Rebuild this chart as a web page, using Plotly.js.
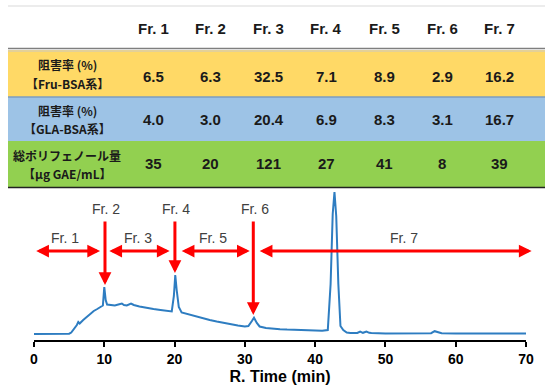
<!DOCTYPE html>
<html>
<head>
<meta charset="utf-8">
<script src="https://cdn.plot.ly/plotly-3.0.1.min.js"></script>
<style>html,body{margin:0;padding:0;background:#fff;}#chart{width:545px;height:386px;}</style>
</head>
<body>
<div id="chart"></div>
<script>
// ---------- DATA ----------
var fractions = ['Fr. 1', 'Fr. 2', 'Fr. 3', 'Fr. 4', 'Fr. 5', 'Fr. 6', 'Fr. 7'];
var rowLabels = ['阻害率 (%)<br>【Fru-BSA系】', '阻害率 (%)<br>【GLA-BSA系】', '総ポリフェノール量<br>【µg GAE/mL】'];
var fruBSA = [6.5, 6.3, 32.5, 7.1, 8.9, 2.9, 16.2];
var glaBSA = [4.0, 3.0, 20.4, 6.9, 8.3, 3.1, 16.7];
var polyphenol = [35, 20, 121, 27, 41, 8, 39];

// chromatogram (retention time in min, detector signal in a.u.)
var rtime = [0, 1, 2, 3, 4, 5, 5.3, 5.7, 6.1, 6.3, 6.5, 7, 7.5, 8, 8.5, 9, 9.5, 9.8, 10.0, 10.2, 10.4,
  11, 11.5, 12, 12.5, 12.8, 13.2, 13.8, 14.2, 15, 16, 17, 18, 19, 19.6, 19.9, 20.1, 20.3, 20.6,
  21, 22, 23, 24, 25, 26, 27, 28, 29, 30, 30.5, 31.0, 31.3, 31.7, 32.1, 33, 34, 35, 36, 38, 40, 41,
  41.8, 42.2, 42.5, 42.75, 43.0, 43.3, 43.6, 44, 44.5, 45, 46, 46.4, 46.8, 47.3, 47.7, 48, 50, 55,
  56.5, 57, 57.5, 58, 60, 65, 70];
var signal = [0, 0, 0, 0, 0, 0.3, 1.5, 5, 9, 12, 10.5, 14, 17, 20, 23, 25, 27, 28.5, 47, 34, 29.5,
  29, 28.5, 29.5, 30.5, 29, 28.5, 30.5, 29, 27.5, 26, 25, 24, 23, 22.5, 38, 59, 44, 27,
  21.5, 19.5, 17.5, 15.5, 14, 12.5, 11, 9.8, 8.5, 7.5, 8, 13, 16.3, 11, 7.5, 6, 5.2, 4.8, 4.4, 4, 3.5, 3.3,
  4, 50, 120, 142, 118, 50, 8, 4, 1.5, 1, 1, 2.5, 1.2, 2.5, 1.2, 1, 0.6, 0.5,
  0.8, 2.8, 1.4, 0.8, 0.5, 0.5, 0.5];

// ---------- STYLE / GEOMETRY ----------
var W = 545, H = 386;
function px(x) { return x / W; }
function py(y) { return 1 - y / H; }
var rowBands = [[50, 97, '#FFD966'], [97, 141, '#9DC3E6'], [141, 187, '#92D050']];
var colCenter0 = 153, colStep = 57.8, labelCenter = 67;
var headerY = 28;
var numberY = [76, 119, 164];
var labelY = [65, 110, 155];
var labelGap = 18;
var txtFont = 'Liberation Sans, Arial, sans-serif';
var cjkFont = 'Noto Sans CJK JP, sans-serif';
var red = '#FF0000';

var shapes = [];
var annotations = [];

// table rows
rowBands.forEach(function (b) {
  shapes.push({type: 'rect', xref: 'paper', yref: 'paper', x0: px(8), x1: px(W), y0: py(b[0]), y1: py(b[1]),
    fillcolor: b[2], line: {width: 0}, layer: 'below'});
});
shapes.push({type: 'line', xref: 'paper', yref: 'paper', x0: px(8), x1: px(W), y0: py(6), y1: py(6), line: {color: '#d9d9d9', width: 1}});
shapes.push({type: 'line', xref: 'paper', yref: 'paper', x0: px(8), x1: px(W), y0: py(48.5), y1: py(48.5), line: {color: '#7f7f7f', width: 1.5}});
shapes.push({type: 'line', xref: 'paper', yref: 'paper', x0: px(8), x1: px(W), y0: py(51), y1: py(51), line: {color: '#c8c8c8', width: 1}});
shapes.push({type: 'line', xref: 'paper', yref: 'paper', x0: px(8), x1: px(W), y0: py(97), y1: py(97), line: {color: '#7d9cc0', width: 1.5}});
shapes.push({type: 'line', xref: 'paper', yref: 'paper', x0: px(8), x1: px(W), y0: py(187.5), y1: py(187.5), line: {color: '#222', width: 1.5}});

// table text
var rows = [fruBSA.map(function (v) { return v.toFixed(1); }),
            glaBSA.map(function (v) { return v.toFixed(1); }),
            polyphenol.map(function (v) { return String(v); })];
fractions.forEach(function (f, i) {
  var cx = colCenter0 + colStep * i;
  annotations.push({xref: 'paper', yref: 'paper', x: px(cx), y: py(headerY), text: '<b>' + f + '</b>', showarrow: false,
    xanchor: 'center', yanchor: 'middle', font: {family: txtFont, size: 15, color: '#1a1a1a'}});
  rows.forEach(function (r, j) {
    annotations.push({xref: 'paper', yref: 'paper', x: px(cx), y: py(numberY[j]), text: '<b>' + r[i] + '</b>', showarrow: false,
      xanchor: 'center', yanchor: 'middle', font: {family: txtFont, size: 15, color: '#1a1a1a'}});
  });
});
rowLabels.forEach(function (l, j) {
  l.split('<br>').forEach(function (part, k) {
    annotations.push({xref: 'paper', yref: 'paper', x: px(labelCenter), y: py(labelY[j] + k * labelGap), text: '<b>' + part + '</b>',
      showarrow: false, xanchor: 'center', yanchor: 'middle', align: 'center', borderpad: 0,
      font: {family: cjkFont, size: 12, color: '#1a1a1a', weight: 'bold'}});
  });
});

// fraction arrows on the chromatogram
var hArrowY = 83, vArrowTop = 114, hLabelY = 96, vLabelY = 125;
var hArrows = [[0.1, 9.4], [10.5, 19.3], [20.8, 30.7], [31.9, 70.8]];
var hLabels = [[4.4, 'Fr. 1'], [14.8, 'Fr. 3'], [25.5, 'Fr. 5'], [52.6, 'Fr. 7']];
var vArrows = [[10.1, 49, 'Fr. 2'], [20.05, 61, 'Fr. 4'], [31.2, 19, 'Fr. 6']];
hArrows.forEach(function (a) {
  annotations.push({xref: 'x', yref: 'y', axref: 'x', ayref: 'y', x: a[1], y: hArrowY, ax: a[0], ay: hArrowY,
    text: '', showarrow: true, arrowside: 'end+start', arrowhead: 2, startarrowhead: 2,
    arrowsize: 0.85, startarrowsize: 0.85, arrowwidth: 3, arrowcolor: red, standoff: 0, startstandoff: 0});
});
hLabels.forEach(function (l) {
  annotations.push({xref: 'x', yref: 'y', x: l[0], y: hLabelY, text: l[1], showarrow: false,
    xanchor: 'center', yanchor: 'middle', font: {family: txtFont, size: 14, color: '#404040'}});
});
vArrows.forEach(function (a) {
  annotations.push({xref: 'x', yref: 'y', axref: 'x', ayref: 'y', x: a[0], y: a[1], ax: a[0], ay: vArrowTop,
    text: '', showarrow: true, arrowhead: 2, arrowsize: 0.85, arrowwidth: 3, arrowcolor: red, standoff: 0});
  annotations.push({xref: 'x', yref: 'y', x: a[0] + 0.2, y: vLabelY, text: a[2], showarrow: false,
    xanchor: 'center', yanchor: 'middle', font: {family: txtFont, size: 14, color: '#404040'}});
});

var trace = {x: rtime, y: signal, type: 'scatter', mode: 'lines', line: {color: '#2E7DC1', width: 2}, hoverinfo: 'skip'};

var layout = {
  width: W, height: H, margin: {l: 0, r: 0, t: 0, b: 0},
  paper_bgcolor: '#fff', plot_bgcolor: '#fff', showlegend: false,
  xaxis: {domain: [px(34), px(526)], range: [0, 70], tickvals: [0, 10, 20, 30, 40, 50, 60, 70],
    ticks: 'outside', ticklen: 5, tickwidth: 2, tickcolor: '#000', showline: true, linewidth: 2, linecolor: '#000',
    showgrid: false, zeroline: false, fixedrange: true,
    tickfont: {family: txtFont, size: 14, color: '#000', weight: 'bold'},
    title: {text: '<b>R. Time (min)</b>', font: {family: txtFont, size: 16, color: '#000'}, standoff: 5}},
  yaxis: {domain: [py(340), py(190)], range: [-6, 144], visible: false, fixedrange: true},
  shapes: shapes, annotations: annotations
};

Plotly.newPlot('chart', [trace], layout, {displayModeBar: false, staticPlot: true});
</script>
</body>
</html>
